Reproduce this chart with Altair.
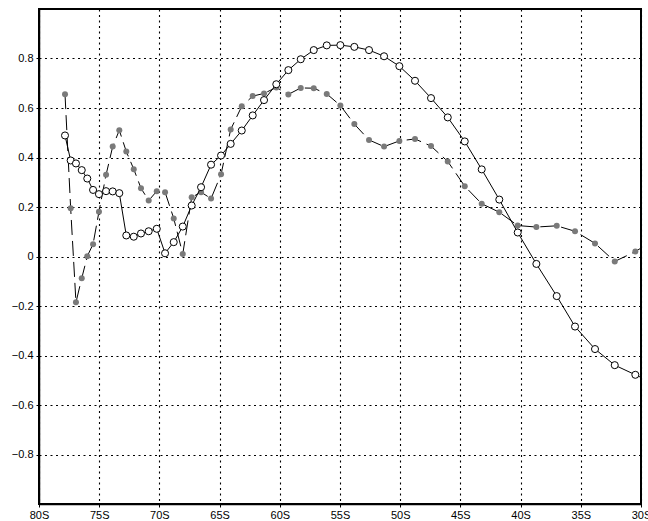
import altair as alt
import pandas as pd

# latitude (negative = south) of each sample
lats = [-77.84, -77.37, -76.93, -76.45, -75.99, -75.51, -75.02, -74.43, -73.88, -73.33,
        -72.75, -72.13, -71.53, -70.89, -70.22, -69.53, -68.81, -68.06, -67.32, -66.54,
        -65.71, -64.88, -64.08, -63.16, -62.25, -61.31, -60.29, -59.29, -58.26, -57.18,
        -56.10, -54.97, -53.81, -52.59, -51.34, -50.07, -48.77, -47.44, -46.05, -44.64,
        -43.23, -41.77, -40.24, -38.69, -37.00, -35.48, -33.82, -32.18, -30.47, -28.80]

# solid line, open circles
series_a = [0.489, 0.388, 0.376, 0.349, 0.315, 0.269, 0.252, 0.264, 0.263, 0.256,
            0.085, 0.080, 0.093, 0.102, 0.112, 0.013, 0.058, 0.121, 0.206, 0.280,
            0.371, 0.408, 0.455, 0.509, 0.570, 0.632, 0.696, 0.753, 0.797, 0.834,
            0.853, 0.854, 0.847, 0.834, 0.809, 0.769, 0.710, 0.640, 0.562, 0.465,
            0.352, 0.230, 0.097, -0.030, -0.160, -0.283, -0.374, -0.439, -0.478, -0.515]

# dashed line, grey dots
series_b = [0.656, 0.195, -0.185, -0.088, 0.001, 0.050, 0.181, 0.330, 0.444, 0.510,
            0.424, 0.353, 0.276, 0.226, 0.264, 0.260, 0.154, 0.010, 0.239, 0.260,
            0.234, 0.332, 0.513, 0.607, 0.648, 0.659, 0.683, 0.655, 0.681, 0.680,
            0.657, 0.610, 0.535, 0.471, 0.444, 0.467, 0.475, 0.446, 0.384, 0.284,
            0.213, 0.179, 0.125, 0.119, 0.124, 0.102, 0.053, -0.020, 0.020, 0.070]

x_ticks = [-80, -75, -70, -65, -60, -55, -50, -45, -40, -35, -30]
y_ticks = [-0.8, -0.6, -0.4, -0.2, 0, 0.2, 0.4, 0.6, 0.8]

df = pd.DataFrame({"lat": lats, "a": series_a, "b": series_b})

FONT = "Liberation Sans"

x_enc = alt.X(
    "lat:Q",
    scale=alt.Scale(domain=[-80, -30], nice=False, zero=False),
    axis=alt.Axis(
        values=x_ticks,
        labelExpr="format(-datum.value, 'd') + 'S'",
        title=None,
        grid=True,
        gridColor="black",
        gridDash=[2, 3.5],
        gridWidth=1.1,
        tickSize=3,
        tickColor="black",
        domainColor="black",
        domainWidth=1.5,
        labelFlush=False,
        labelPadding=2,
        labelFont=FONT,
        labelFontSize=11,
        labelColor="black",
    ),
)


def y_enc(field):
    return alt.Y(
        f"{field}:Q",
        scale=alt.Scale(domain=[-1, 1], nice=False, zero=False),
        axis=alt.Axis(
            values=y_ticks,
            labelExpr="datum.value == 0 ? '0' : format(datum.value, '.1f')",
            title=None,
            grid=True,
            gridColor="black",
            gridDash=[2, 3.5],
            gridWidth=1.1,
            tickSize=3,
            tickColor="black",
            domainColor="black",
            domainWidth=1.5,
            labelPadding=3,
            labelFont=FONT,
            labelFontSize=11,
            labelColor="black",
        ),
    )


base = alt.Chart(df)

line_b = base.mark_line(color="black", strokeWidth=1, strokeDash=[15, 6], clip=True).encode(
    x=x_enc, y=y_enc("b")
)
pts_b = base.mark_circle(color="#7a7a7a", size=36, opacity=1, clip=True).encode(
    x=x_enc, y=y_enc("b")
)
line_a = base.mark_line(color="black", strokeWidth=1, clip=True).encode(
    x=x_enc, y=y_enc("a")
)
pts_a = base.mark_point(
    shape="circle", filled=True, fill="white", stroke="black", strokeWidth=1,
    size=50, opacity=1, clip=True
).encode(x=x_enc, y=y_enc("a"))

chart = (
    alt.layer(line_b, pts_b, line_a, pts_a)
    .properties(
        width=602,
        height=495,
        autosize=alt.AutoSizeParams(type="none"),
        padding={"left": 39, "top": 9, "right": 7, "bottom": 17},
        background="white",
    )
    .configure_view(stroke="black", strokeWidth=2)
)

chart.save("out.html", embed_options={"renderer": "svg", "actions": False})
